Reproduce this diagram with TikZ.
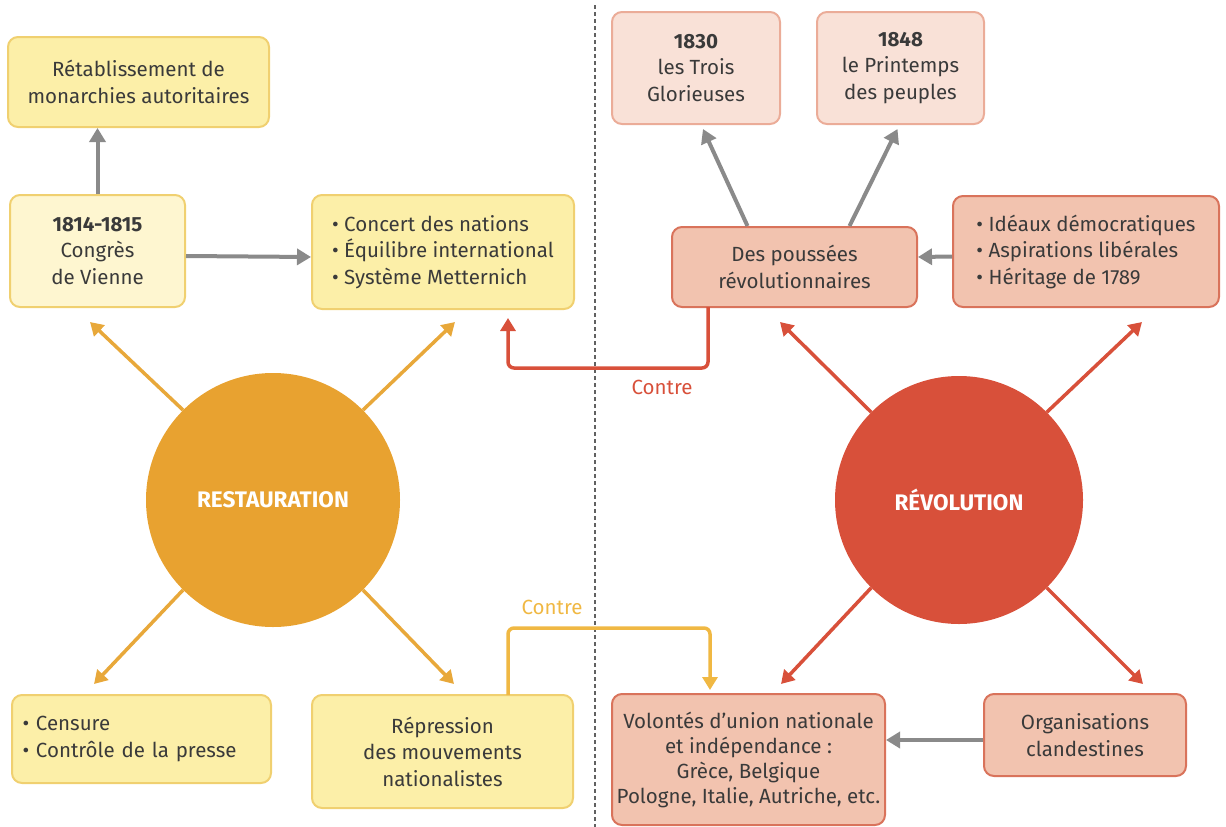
\documentclass[tikz,border=0pt]{standalone}
\usepackage{fontspec}
\setmainfont{Fira Sans}
\usetikzlibrary{arrows.meta,calc}
\definecolor{txt}{HTML}{3A3A3A}
\definecolor{yfill}{HTML}{FCEFA8}
\definecolor{ydraw}{HTML}{F0D070}
\definecolor{ylight}{HTML}{FEF6D0}
\definecolor{rfill}{HTML}{F2C3AF}
\definecolor{rdraw}{HTML}{D9735B}
\definecolor{rlight}{HTML}{F9E1D7}
\definecolor{rldraw}{HTML}{EBAC98}
\definecolor{orangec}{HTML}{E8A230}
\definecolor{redc}{HTML}{D8503A}
\definecolor{orarrow}{HTML}{E8A83A}
\definecolor{contreor}{HTML}{F0B843}
\definecolor{grayc}{HTML}{8A8A8A}
\tikzset{
  box/.style={rounded corners=10pt, line width=2pt, align=center, text=txt,
    font=\fontsize{20.5}{26.5}\selectfont, inner sep=2pt},
  ybox/.style={box, fill=yfill, draw=ydraw},
  ylbox/.style={box, fill=ylight, draw=ydraw},
  rbox/.style={box, fill=rfill, draw=rdraw},
  rlbox/.style={box, fill=rlight, draw=rldraw},
  bigc/.style={circle, text=white, font=\fontsize{22.5}{26}\selectfont\bfseries, inner sep=0pt},
  garrow/.style={draw=grayc, line width=4pt, -{Triangle[length=14pt,width=16pt]}},
  oarrow/.style={draw=orarrow, line width=3.5pt, -{Triangle[length=13pt,width=15pt]}},
  rarrow/.style={draw=redc, line width=3.5pt, -{Triangle[length=13pt,width=15pt]}},
  lbl/.style={font=\fontsize{20.5}{24}\selectfont, inner sep=0pt}
}
\begin{document}
\begin{tikzpicture}[x=1pt,y=-1pt]
\useasboundingbox (0,0) rectangle (1226,827);
\draw[grayc!70!black, line width=1.8pt, dash pattern=on 4pt off 3pt] (595,5) -- (595,827);

% left side boxes
\node[ybox, minimum width=261pt, minimum height=90pt] (retab) at (138.5,82) {Rétablissement de\\monarchies autoritaires};
\node[ylbox, minimum width=175pt, minimum height=112pt] (congres) at (97.5,251) {\textbf{1814-1815}\\Congrès\\de Vienne};
\node[ybox, minimum width=262pt, minimum height=114pt, align=left] (concert) at (443,252) {• Concert des nations\\• Équilibre international\\• Système Metternich};
\node[ybox, minimum width=259pt, minimum height=88pt, align=left, text width=238pt] (censure) at (141.5,739) {• Censure\\• Contrôle de la presse};
\node[ybox, minimum width=261pt, minimum height=113pt] (repr) at (442.5,751.5) {Répression\\des mouvements\\nationalistes};

% right side boxes
\node[rlbox, minimum width=168pt, minimum height=112pt] (b1830) at (696,68) {\textbf{1830}\\les Trois\\Glorieuses};
\node[rlbox, minimum width=167pt, minimum height=112pt] (b1848) at (900.5,68) {\textbf{1848}\\le Printemps\\des peuples};
\node[rbox, minimum width=245pt, minimum height=80pt] (pouss) at (794.5,267) {Des poussées\\révolutionnaires};
\node[rbox, minimum width=266pt, minimum height=111pt, align=left] (ideaux) at (1086,251.5) {• Idéaux démocratiques\\• Aspirations libérales\\• Héritage de 1789};
\node[rbox, minimum width=273pt, minimum height=131pt, font=\fontsize{20.5}{25}\selectfont] (volon) at (748.5,759.5) {Volontés d’union nationale\\et indépendance :\\Grèce, Belgique\\Pologne, Italie, Autriche, etc.};
\node[rbox, minimum width=202pt, minimum height=82pt] (orga) at (1085,735) {Organisations\\clandestines};

% circles
\node[bigc, fill=orangec, minimum size=254pt] (resto) at (273,500) {RESTAURATION};
\node[bigc, fill=redc, minimum size=248pt] (revo) at (959,500) {RÉVOLUTION};

% gray arrows
\draw[garrow] (congres.north) -- (congres.north |- retab.south);
\draw[garrow] ($(congres.east)+(0,5)$) -- ($(concert.west)+(0,5)$);
\draw[garrow] ($(pouss.north)+(-47,0)$) -- ($(b1830.south)+(7,4)$);
\draw[garrow] ($(pouss.north)+(55,0)$) -- ($(b1848.south)+(-3,4)$);
\draw[garrow] ($(ideaux.west)+(0,5)$) -- ($(pouss.east)+(0,-10)$);
\draw[garrow] ($(orga.west)+(0,5)$) -- ($(volon.east)+(0,-19.5)$);

% restauration arrows
\coordinate (t1) at (90,322);
\coordinate (t2) at (455,322);
\coordinate (t3) at (94,684);
\coordinate (t4) at (454,684);
\draw[oarrow] (resto.135) -- (t1);
\draw[oarrow] (resto.45) -- (t2);
\draw[oarrow] (resto.225) -- (t3);
\draw[oarrow] (resto.315) -- (t4);

% revolution arrows
\coordinate (u1) at (780,322);
\coordinate (u2) at (1142,322);
\coordinate (u3) at (781,684);
\coordinate (u4) at (1143,684);
\draw[rarrow] (revo.135) -- (u1);
\draw[rarrow] (revo.45) -- (u2);
\draw[rarrow] (revo.225) -- (u3);
\draw[rarrow] (revo.315) -- (u4);

% Contre connectors
\coordinate (c1) at (508,318);
\draw[rarrow, rounded corners=6pt] (708,307) -- (708,368) -- (508,368) -- (c1);
\node[lbl, text=redc] (contre1) at (662,387) {Contre};
\coordinate (c2) at (710,690);
\draw[draw=contreor, line width=3.5pt, -{Triangle[length=13pt,width=15pt]}, rounded corners=6pt] (508,695) -- (508,628) -- (710,628) -- (c2);
\node[lbl, text=contreor] (contre2) at (552,607) {Contre};
\end{tikzpicture}
\end{document}
